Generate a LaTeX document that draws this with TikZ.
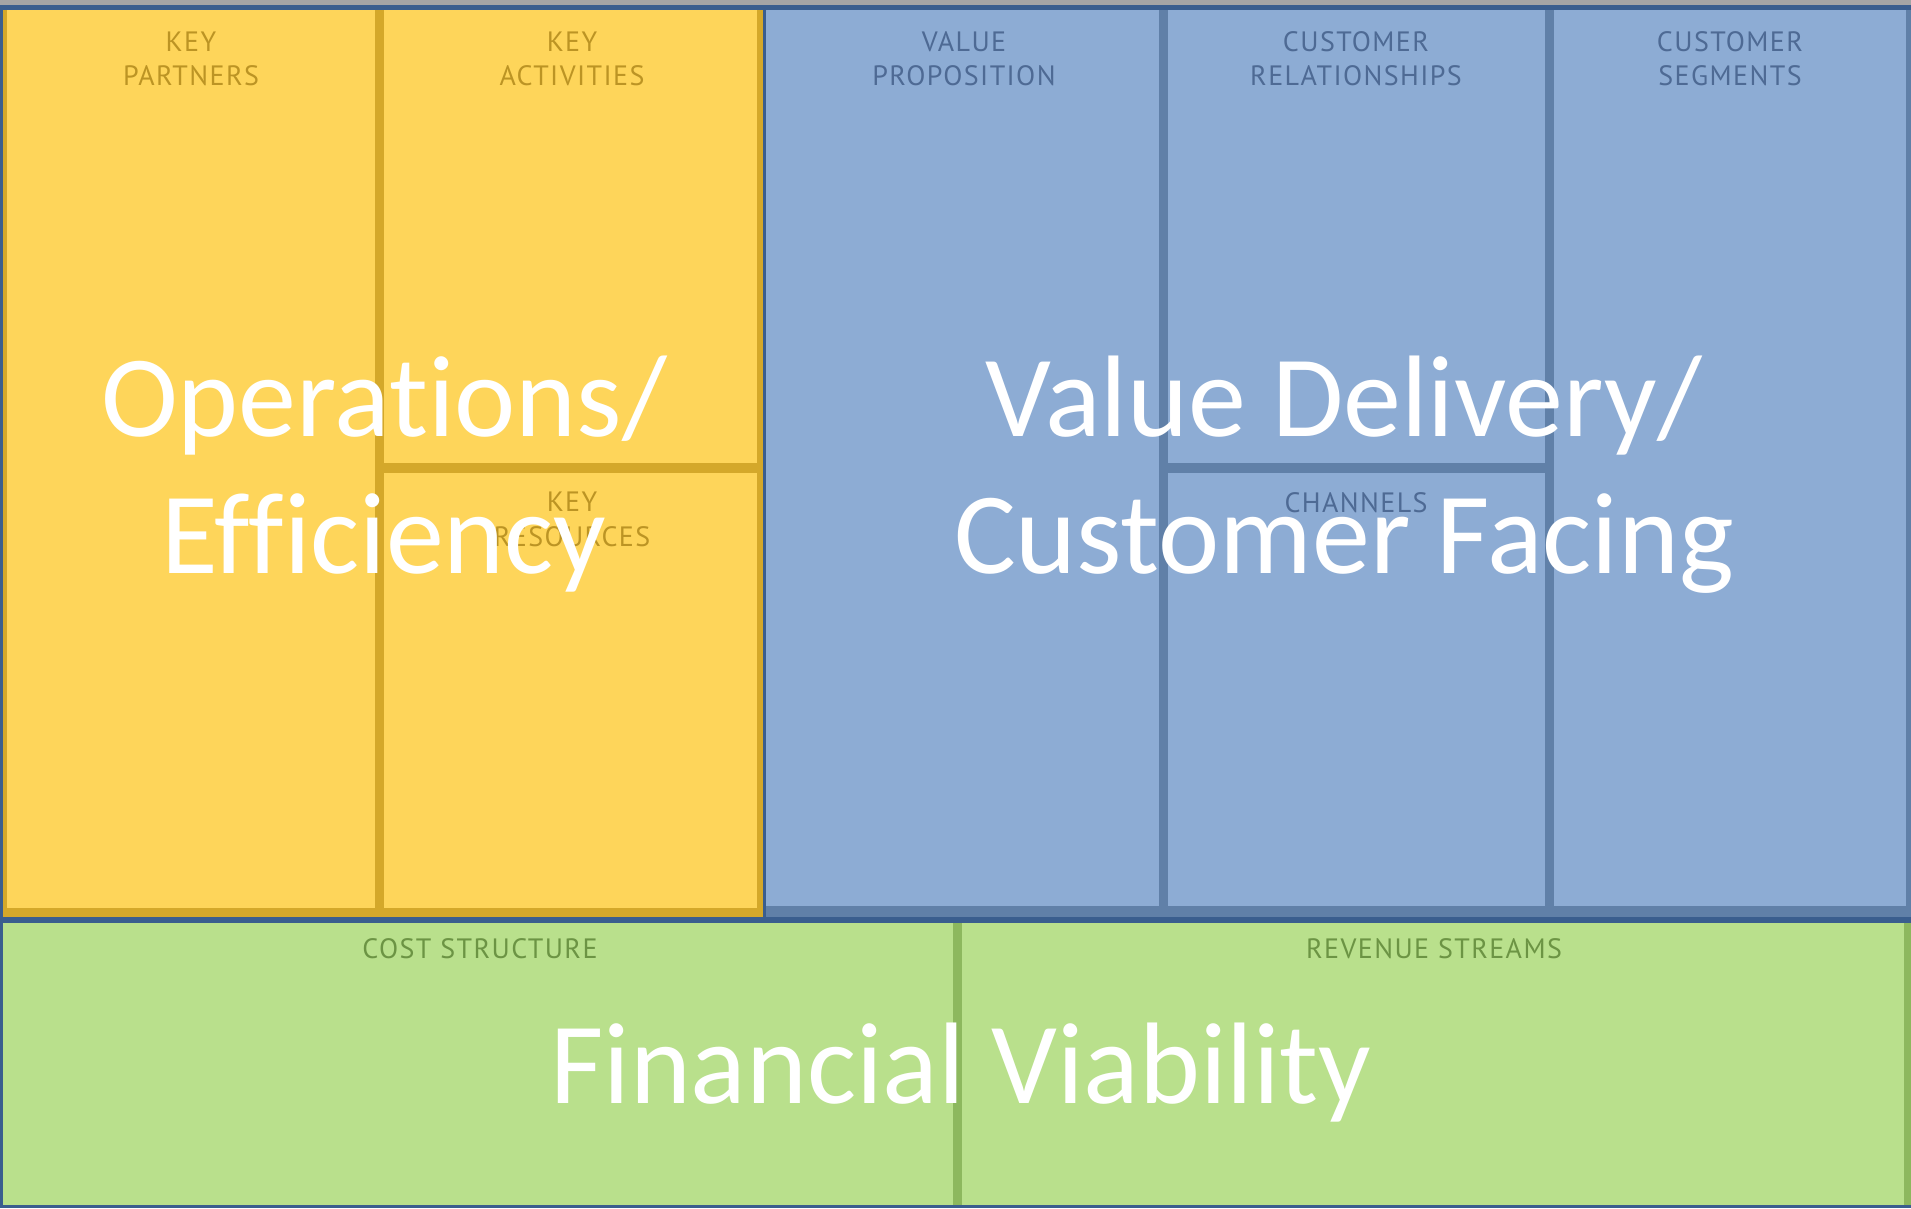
\documentclass[tikz,border=0pt]{standalone}
\usepackage{fontspec}
\setmainfont[Ligatures={NoCommon,NoRare,NoContextual}]{Carlito}
\newfontfamily\labfont[LetterSpace=5]{PT Sans}
\definecolor{yfill}{RGB}{254,213,90}
\definecolor{yline}{RGB}{212,168,42}
\definecolor{ytext}{RGB}{188,148,36}
\definecolor{bfill}{RGB}{141,172,212}
\definecolor{bline}{RGB}{96,128,168}
\definecolor{btext}{RGB}{78,106,148}
\definecolor{gfill}{RGB}{185,224,140}
\definecolor{gline}{RGB}{141,184,94}
\definecolor{gtext}{RGB}{108,148,68}
\definecolor{frameblue}{RGB}{58,94,142}
\definecolor{topgray}{RGB}{165,165,165}
\begin{document}
\begin{tikzpicture}[x=1pt,y=-1pt,
  big/.style={text=white, font=\fontsize{116}{140}\selectfont, inner sep=0pt, anchor=base},
  lab/.style={font=\labfont\fontsize{28}{34}\selectfont, inner sep=0pt, anchor=base},
  ylab/.style={lab, text=ytext},
  blab/.style={lab, text=btext},
  glab/.style={lab, text=gtext}]
\useasboundingbox (0,0) rectangle (1911,1208);
\fill[white] (0,0) rectangle (1911,1208);
% top shadow edge
\fill[topgray] (0,0) rectangle (1911,6);
% region fills
\fill[yfill] (0,6) rectangle (765,920);
\fill[bfill] (765,6) rectangle (1911,920);
\fill[gfill] (0,920) rectangle (1911,1208);
% yellow block borders and dividers
\fill[yline] (3,10) rectangle (7,917);
\fill[yline] (3,908) rectangle (765,917);
\fill[yline] (757,10) rectangle (763,917);
\fill[yline] (375,10) rectangle (384,908);
\fill[yline] (379,463) rectangle (760,473);
% blue block borders and dividers
\fill[bline] (766,906) rectangle (1911,917);
\fill[bline] (1906,10) rectangle (1911,917);
\fill[bline] (1159,10) rectangle (1168,906);
\fill[bline] (1545,10) rectangle (1554,906);
\fill[bline] (1164,463) rectangle (1549,473);
% green dividers
\fill[gline] (953,923) rectangle (962,1205);
\fill[gline] (1904,923) rectangle (1911,1205);
% outer dark frame
\fill[frameblue] (0,5) rectangle (1911,10);
\fill[frameblue] (0,5) rectangle (3,1208);
\fill[frameblue] (0,1205) rectangle (1911,1208);
\fill[frameblue] (0,917) rectangle (1911,923);
\fill[frameblue] (763,5) rectangle (766,917);
% section labels
\node[ylab] (kp1) at (191,51) {KEY};
\node[ylab] (kp2) at (191,85) {PARTNERS};
\node[ylab] (ka1) at (572,51) {KEY};
\node[ylab] (ka2) at (572,85) {ACTIVITIES};
\node[ylab] (kr1) at (572,511) {KEY};
\node[ylab] (kr2) at (572,546) {RESOURCES};
\node[blab] (vp1) at (964,51) {VALUE};
\node[blab] (vp2) at (964,85) {PROPOSITION};
\node[blab] (cr1) at (1356,51) {CUSTOMER};
\node[blab] (cr2) at (1356,85) {RELATIONSHIPS};
\node[blab] (cs1) at (1730,51) {CUSTOMER};
\node[blab] (cs2) at (1730,85) {SEGMENTS};
\node[blab] (ch) at (1356,512) {CHANNELS};
\node[glab] (cost) at (480,958) {COST STRUCTURE};
\node[glab] (rev) at (1434,958) {REVENUE STREAMS};
% big titles
\node[big] (ops1) at (384,436) {Operations/};
\node[big] (ops2) at (384,573) {Efficiency};
\node[big] (val1) at (1344,436) {Value Delivery/};
\node[big] (val2) at (1344,573) {Customer Facing};
\node[big] (fin) at (961,1103) {Financial Viability};
\end{tikzpicture}
\end{document}
